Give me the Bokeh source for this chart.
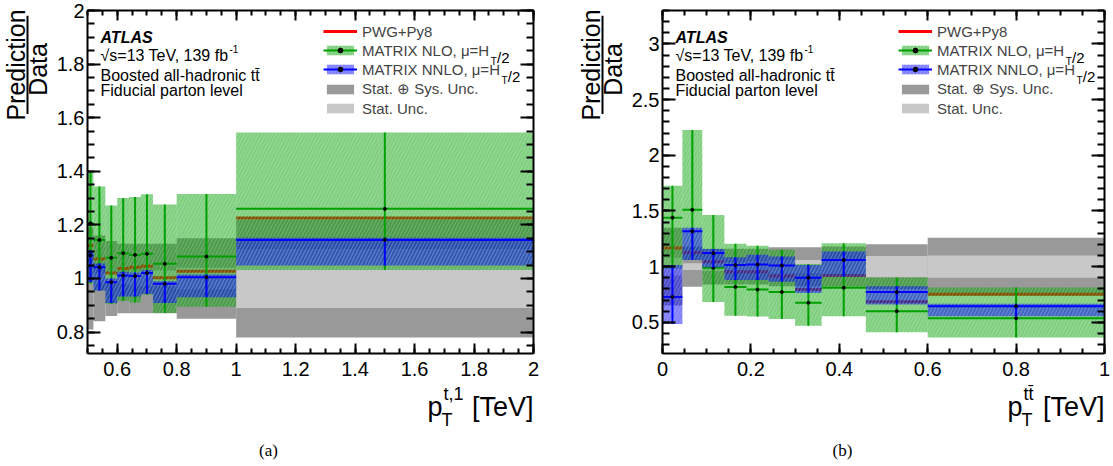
import numpy as np
from math import pi
from bokeh.plotting import figure
from bokeh.models import (ColumnDataSource, FixedTicker, LinearAxis, Label, Legend,
                          LegendItem, Range1d, CustomJSTickFormatter)
from bokeh.layouts import row, column
from bokeh.embed import file_html
from bokeh.resources import INLINE

SANS = "Liberation Sans"
SERIF = "Liberation Serif"

# ---------------- data : panel (a) leading top-quark pT [TeV] ----------------
a_edges = [0.50, 0.52, 0.56, 0.60, 0.64, 0.68, 0.72, 0.80, 1.00, 2.00]
a_tot = [0.19, 0.16, 0.14, 0.13, 0.13, 0.13, 0.13, 0.15, 0.22]
a_stat = [0.02, 0.02, 0.02, 0.02, 0.025, 0.03, 0.03, 0.04, 0.11]
a_pwg = [1.123, 1.073, 1.020, 1.037, 1.042, 1.046, 1.003, 1.027, 1.226]
a_nlo = [1.206, 1.144, 1.077, 1.094, 1.088, 1.092, 1.055, 1.082, 1.260]
a_nlo_up = [1.396, 1.343, 1.272, 1.300, 1.304, 1.314, 1.276, 1.315, 1.545]
a_nlo_dn = [0.980, 0.955, 0.906, 0.917, 0.910, 0.940, 0.871, 0.894, 1.032]
a_nnlo = [1.086, 1.042, 0.986, 1.011, 1.009, 1.020, 0.980, 1.005, 1.144]
a_nnlo_up = [1.105, 1.056, 1.000, 1.025, 1.022, 1.032, 0.990, 1.015, 1.152]
a_nnlo_dn = [0.986, 0.955, 0.908, 0.933, 0.933, 0.943, 0.908, 0.930, 1.048]

# ---------------- data : panel (b) ttbar pT [TeV] ----------------
b_edges = [0.0, 0.045, 0.09, 0.14, 0.19, 0.24, 0.30, 0.36, 0.46, 0.60, 1.00]
b_tot = [0.35, 0.18, 0.16, 0.16, 0.16, 0.175, 0.175, 0.18, 0.20, 0.26]
b_stat = [0.08, 0.03, 0.04, 0.04, 0.05, 0.06, 0.06, 0.07, 0.095, 0.10]
b_pwg = [1.167, 1.127, 1.045, 0.955, 0.955, 0.915, 0.794, 0.920, 0.684, 0.752]
b_nlo = [1.440, 1.510, 0.990, 0.818, 0.794, 0.773, 0.676, 0.810, 0.600, 0.537]
b_nlo_up = [1.727, 2.227, 1.464, 1.206, 1.188, 1.152, 1.024, 1.210, 0.903, 0.812]
b_nlo_dn = [0.980, 1.060, 0.682, 0.560, 0.552, 0.530, 0.470, 0.555, 0.410, 0.364]
b_nnlo = [0.727, 1.318, 1.122, 1.015, 1.020, 1.010, 0.900, 1.060, 0.773, 0.645]
b_nnlo_up = [1.015, 1.350, 1.158, 1.085, 1.106, 1.090, 1.015, 1.136, 0.824, 0.667]
b_nnlo_dn = [0.485, 1.060, 0.994, 0.879, 0.879, 0.864, 0.764, 0.909, 0.661, 0.555]

# ---------------- tick labels ----------------
a_xticks = [0.6, 0.8, 1.0, 1.2, 1.4, 1.6, 1.8, 2.0]
a_yticks = [0.8, 1.0, 1.2, 1.4, 1.6, 1.8, 2.0]
b_xticks = [0.0, 0.2, 0.4, 0.6, 0.8, 1.0]
b_yticks = [0.5, 1.0, 1.5, 2.0, 2.5, 3.0]

GRAY_TOT = "#999999"
GRAY_STAT = "#c8c8c8"
GREEN = "#00a000"
BLUE = "#0000ff"
RED = "#ff0000"

FMT = "var v = Math.round(tick*1000)/1000; return String(v);"

PAGE_W, PAGE_H = 1113, 466
ROW1_H = 384          # height of the plot row; x titles / captions go below


def style_axis(ax, ticks, minor, major_len, minor_len, labels):
    ax.ticker = FixedTicker(ticks=ticks, minor_ticks=minor)
    ax.major_tick_in = major_len
    ax.major_tick_out = 0
    ax.minor_tick_in = minor_len
    ax.minor_tick_out = 0
    ax.axis_line_width = 2
    ax.axis_line_color = "black"
    ax.major_tick_line_width = 2
    ax.minor_tick_line_width = 2
    ax.major_tick_line_color = "black"
    ax.minor_tick_line_color = "black"
    ax.axis_label = None
    if labels:
        ax.formatter = CustomJSTickFormatter(code=FMT)
        ax.major_label_text_font = SANS
        ax.major_label_text_font_size = "20px"
        ax.major_label_text_color = "black"
    else:
        ax.formatter = CustomJSTickFormatter(code="return '';")
        ax.major_label_text_font_size = "0px"
        ax.major_label_standoff = 0


def aux_fig(w, h):
    f = figure(width=w, height=h, x_range=Range1d(0, w), y_range=Range1d(0, h),
               x_axis_type=None, y_axis_type=None, output_backend="svg",
               toolbar_location=None, tools="", min_border=0,
               min_border_left=0, min_border_right=0, min_border_top=0, min_border_bottom=0)
    f.outline_line_color = None
    f.background_fill_color = "white"
    f.border_fill_color = "white"
    return f


def put(f, h, x, py, text, size, font=SANS, style="normal", align="left",
        baseline="alphabetic", angle=0.0):
    f.add_layout(Label(x=x, y=h - py, text=text, text_font=font,
                       text_font_size=f"{size}px", text_font_style=style,
                       text_align=align, text_baseline=baseline, angle=angle,
                       text_color="black"))


def make_panel(edges, tot, stat, pwg, nlo, nlo_up, nlo_dn, nnlo, nnlo_up, nnlo_dn,
               xr, yr, geom, xticks, xminor, yticks, yminor):
    L, R, T, B, fig_left, fig_w, fig_h = geom
    lo = np.array(edges[:-1])
    hi = np.array(edges[1:])
    mid = (lo + hi) / 2.0
    tot = np.array(tot)
    stat = np.array(stat)
    src = ColumnDataSource(dict(
        lo=lo, hi=hi, mid=mid,
        tot_top=1 + tot, tot_bot=1 - tot,
        stat_top=1 + stat, stat_bot=1 - stat,
        pwg=pwg, nlo=nlo, nlo_up=nlo_up, nlo_dn=nlo_dn,
        nnlo=nnlo, nnlo_up=nnlo_up, nnlo_dn=nnlo_dn))

    p = figure(frame_width=R - L, frame_height=B - T,
               x_range=Range1d(*xr), y_range=Range1d(*yr),
               output_backend="svg", toolbar_location=None, tools="",
               min_border_left=L - fig_left, min_border_right=fig_w - (R - fig_left),
               min_border_top=T, min_border_bottom=fig_h - B)
    p.outline_line_color = None
    p.grid.visible = False
    p.background_fill_color = "white"
    p.border_fill_color = "white"

    style_axis(p.xaxis[0], xticks, xminor, 10, 5, True)
    style_axis(p.yaxis[0], yticks, yminor, 13, 7, True)
    p.xaxis[0].major_label_standoff = 8
    p.yaxis[0].major_label_standoff = 3
    top = LinearAxis()
    style_axis(top, xticks, xminor, 10, 5, False)
    p.add_layout(top, "above")
    right = LinearAxis()
    style_axis(right, yticks, yminor, 13, 7, False)
    p.add_layout(right, "right")

    r_tot = p.quad(left="lo", right="hi", top="tot_top", bottom="tot_bot", source=src,
                   fill_color=GRAY_TOT, line_color=None)
    r_stat = p.quad(left="lo", right="hi", top="stat_top", bottom="stat_bot", source=src,
                    fill_color=GRAY_STAT, line_color=None)
    r_pwg = p.segment(x0="lo", x1="hi", y0="pwg", y1="pwg", source=src,
                      line_color=RED, line_width=3)

    hatch = dict(hatch_pattern="/", hatch_color="white", hatch_alpha=0.22,
                 hatch_scale=7, hatch_weight=1)
    r_nlo_band = p.quad(left="lo", right="hi", top="nlo_up", bottom="nlo_dn", source=src,
                        fill_color=GREEN, fill_alpha=0.5, line_color=None, **hatch)
    r_nlo_line = p.segment(x0="lo", x1="hi", y0="nlo", y1="nlo", source=src,
                           line_color=GREEN, line_width=2)
    p.segment(x0="mid", x1="mid", y0="nlo_dn", y1="nlo_up", source=src,
              line_color=GREEN, line_width=2)
    r_nlo_dot = p.scatter(x="mid", y="nlo", source=src, size=3, color="black")

    r_nnlo_band = p.quad(left="lo", right="hi", top="nnlo_up", bottom="nnlo_dn", source=src,
                         fill_color=BLUE, fill_alpha=0.5, line_color=None, **hatch)
    r_nnlo_line = p.segment(x0="lo", x1="hi", y0="nnlo", y1="nnlo", source=src,
                            line_color=BLUE, line_width=2)
    p.segment(x0="mid", x1="mid", y0="nnlo_dn", y1="nnlo_up", source=src,
              line_color=BLUE, line_width=2)
    r_nnlo_dot = p.scatter(x="mid", y="nnlo", source=src, size=3, color="black")

    legend = Legend(items=[
        LegendItem(label="PWG+Py8", renderers=[r_pwg]),
        LegendItem(label="MATRIX NLO, \u03bc=H", renderers=[r_nlo_band, r_nlo_line, r_nlo_dot]),
        LegendItem(label="MATRIX NNLO, \u03bc=H", renderers=[r_nnlo_band, r_nnlo_line, r_nnlo_dot]),
        LegendItem(label="Stat. \u2295 Sys. Unc.", renderers=[r_tot]),
        LegendItem(label="Stat. Unc.", renderers=[r_stat]),
    ], location=(236, 236.5), padding=0, margin=0, spacing=2,
        glyph_width=34, glyph_height=12, label_height=17, label_standoff=5,
        label_text_font=SANS, label_text_font_size="15px",
        border_line_color=None, background_fill_alpha=0)
    p.add_layout(legend)

    sx = (xr[1] - xr[0]) / (R - L)
    sy = (yr[1] - yr[0]) / (B - T)

    def txt(px, py, text, size, style="normal"):
        p.add_layout(Label(x=xr[0] + (px - L) * sx, y=yr[0] + (B - py) * sy, text=text,
                           text_font=SANS, text_font_size=f"{size}px",
                           text_font_style=style, text_align="left",
                           text_baseline="alphabetic", text_color="black"))

    # legend subscripts (mu = H_T/2)
    tx = L + 275
    for w, ry in ((128.3, 51), (139.1, 70)):
        txt(tx + w, ry + 10, "T", 10)
        txt(tx + w + 6.2, ry + 5.5, "/2", 15)

    # ATLAS block
    ax0 = L + 13
    txt(ax0, 37, "ATLAS", 16, style="bold italic")
    txt(ax0, 54.5, "\u221as=13 TeV, 139 fb", 16)
    txt(ax0 + 129, 48, "-1", 10)
    txt(ax0, 75, "Boosted all-hadronic tt\u0304", 16)
    txt(ax0, 90, "Fiducial parton level", 16)
    return p


def steps(a, b, d):
    n = int(round((b - a) / d))
    return [round(a + i * d, 4) for i in range(n + 1)]


def ytitle(w, L, left):
    """Prediction / Data fraction left of a panel (page coords -> local)."""
    f = aux_fig(w, ROW1_H)
    put(f, ROW1_H, L - 72 - left, 61, "Prediction", 25, align="center",
        baseline="middle", angle=pi / 2)
    put(f, ROW1_H, L - 49.5 - left, 66, "Data", 25, align="center",
        baseline="middle", angle=pi / 2)
    bx = L - 60 - left
    f.segment(x0=[bx], x1=[bx], y0=[ROW1_H - 6], y1=[ROW1_H - 116],
              line_color="black", line_width=2)
    return f


# geometry (page pixels): frame left/right/top/bottom, figure left, width, height
GA = (87, 533, 10, 353, 53, 503, ROW1_H)
GB = (662, 1104, 10, 353, 628, 485, ROW1_H)

pa = make_panel(a_edges, a_tot, a_stat, a_pwg, a_nlo, a_nlo_up, a_nlo_dn,
                a_nnlo, a_nnlo_up, a_nnlo_dn,
                (0.5, 2.0), (0.72, 2.0), GA,
                a_xticks, steps(0.5, 2.0, 0.05), a_yticks, steps(0.75, 2.0, 0.05))
pb = make_panel(b_edges, b_tot, b_stat, b_pwg, b_nlo, b_nlo_up, b_nlo_dn,
                b_nnlo, b_nnlo_up, b_nnlo_dn,
                (0.0, 1.0), (0.22, 3.3), GB,
                b_xticks, steps(0.0, 1.0, 0.05), b_yticks, steps(0.3, 3.3, 0.1))

ya = ytitle(GA[4], GA[0], 0)
yb = ytitle(GB[4] - (GA[4] + GA[5]), GB[0], GA[4] + GA[5])

# bottom strip: x-axis titles and captions (page coords, y measured from page top)
BH = PAGE_H - ROW1_H
fb = aux_fig(PAGE_W, BH)


def bput(x, py, text, size, **kw):
    put(fb, BH, x, py - ROW1_H, text, size, **kw)


for (R, p_left, s_left, sup_text, cap_x, cap) in ((GA[1], 427, 442, "t,1", 268, "(a)"),
                                                   (GB[1], 1007, 1022, "tt\u0304", 842, "(b)")):
    bput(p_left, 406, "p", 27)
    bput(s_left + 1, 393, sup_text, 18)
    bput(s_left - 1, 419, "T", 18)
    bput(R, 406, "[TeV]", 27, align="right")
    bput(cap_x, 450, cap, 17, font=SERIF, align="center", baseline="middle")

layout = column(row(ya, pa, yb, pb), fb)
open("out.html", "w").write(file_html(layout, INLINE))
